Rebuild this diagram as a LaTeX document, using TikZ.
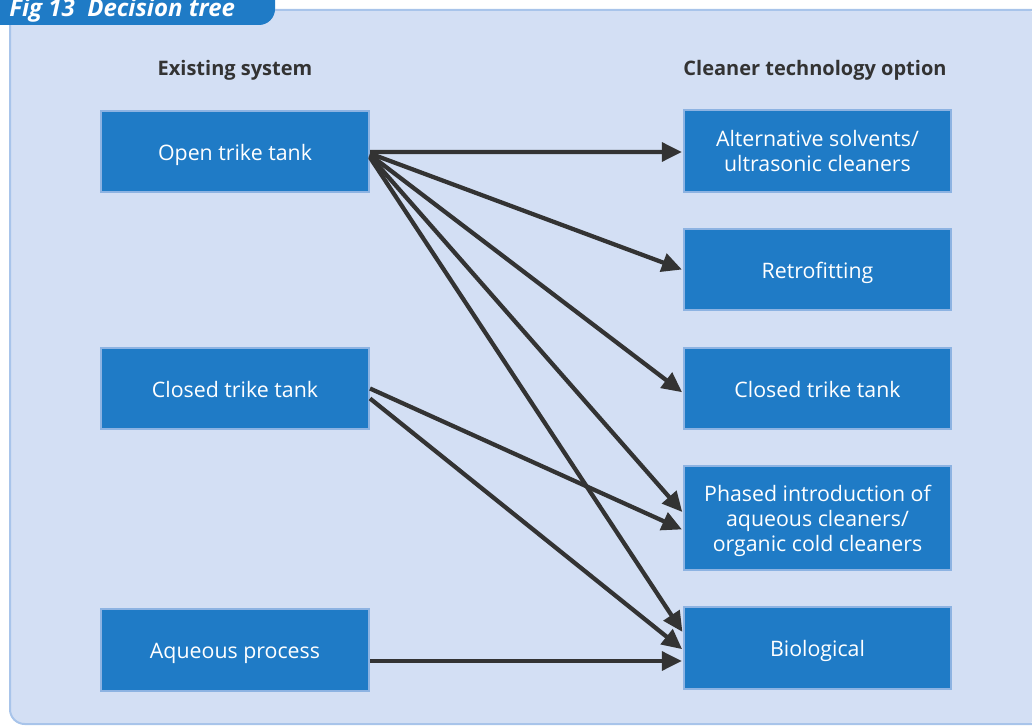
\documentclass[tikz,border=0pt]{standalone}
\usepackage{fontspec}
\setmainfont{Open Sans}
\usetikzlibrary{arrows.meta}
\definecolor{panelbg}{HTML}{D3DFF4}
\definecolor{panelline}{HTML}{A8C4EA}
\definecolor{boxblue}{HTML}{1F7BC6}
\definecolor{boxline}{HTML}{8DB3E2}
\definecolor{arrowgrey}{HTML}{333333}
\tikzset{
  optbox/.style={draw=boxline, line width=1.5pt, fill=boxblue, text=white,
    font=\fontsize{16}{18.75}\selectfont, align=center, inner sep=0pt},
  oneline/.style={text height=16.7pt, text depth=3.8pt},
  leftbox/.style={optbox, minimum width=201pt, minimum height=61pt},
  rightbox/.style={optbox, minimum width=200pt, minimum height=61pt},
  header/.style={text=arrowgrey, font=\fontsize{15}{18}\selectfont\bfseries},
  link/.style={draw=arrowgrey, line width=3.2pt,
    -{Triangle[length=15pt,width=14pt]}, shorten >=1pt},
}
\begin{document}
\begin{tikzpicture}[x=0.75pt,y=-0.75pt]
\useasboundingbox (0,0) rectangle (1032,727);
% panel
\fill[panelbg, rounded corners=11pt] (1040,10) -- (10,10) -- (10,724) -- (1040,724) -- cycle;
\draw[panelline, line width=1.5pt] (1040,10) -- (10,10) [rounded corners=11pt] -- (10,724) -- (1045,724);
% tab
\fill[boxblue] (0,-5) -- (275,-5) [rounded corners=12pt] -- (275,25) [sharp corners] -- (0,25) -- cycle;
\node[anchor=base west, text=white, inner sep=0pt, font=\fontsize{18}{20}\selectfont\bfseries\itshape] (title) at (9,16.5) {Fig 13\ \ Decision tree};
% headers
\node[header] (hleft) at (235,70) {Existing system};
\node[header] (hright) at (815,70) {Cleaner technology option};
% left boxes
\node[leftbox, oneline] (open) at (235,151.5) {Open trike tank};
\node[leftbox, oneline] (closedL) at (235,388.5) {Closed trike tank};
\node[leftbox, oneline] (aq) at (235,650) {Aqueous process};
% right boxes
\node[rightbox] (alt) at (817.5,151) {Alternative solvents/\\ultrasonic cleaners};
\node[rightbox, oneline] (retro) at (817.5,269.5) {Retrofitting};
\node[rightbox, oneline] (closedR) at (817.5,388.5) {Closed trike tank};
\node[rightbox, minimum height=78pt] (phased) at (817.5,518) {\rule{0pt}{16.7pt}Phased introduction of\\aqueous cleaners/\\organic cold cleaners};
\node[rightbox, oneline] (bio) at (817.5,648) {Biological};
% connectors
\draw[link] ([yshift=-0.4pt]open.east) -- ([yshift=-0.75pt]alt.west);
\draw[link] ([yshift=-1.5pt]open.east) -- ([yshift=-0.4pt]retro.west);
\draw[link] ([yshift=-2.5pt]open.east) -- ([yshift=-3.4pt]closedR.west);
\draw[link] ([yshift=-3.5pt]open.east) -- ([yshift=3.75pt]phased.west);
\draw[link] ([yshift=-4.5pt]open.east) -- ([yshift=11.25pt]bio.west);
\draw[link] ([yshift=0pt]closedL.east) -- ([yshift=-9pt]phased.west);
\draw[link] ([yshift=-7.5pt]closedL.east) -- ([yshift=-1.5pt]bio.west);
\draw[link] ([yshift=-8.25pt]aq.east) -- ([yshift=-9.75pt]bio.west);
\end{tikzpicture}
\end{document}
